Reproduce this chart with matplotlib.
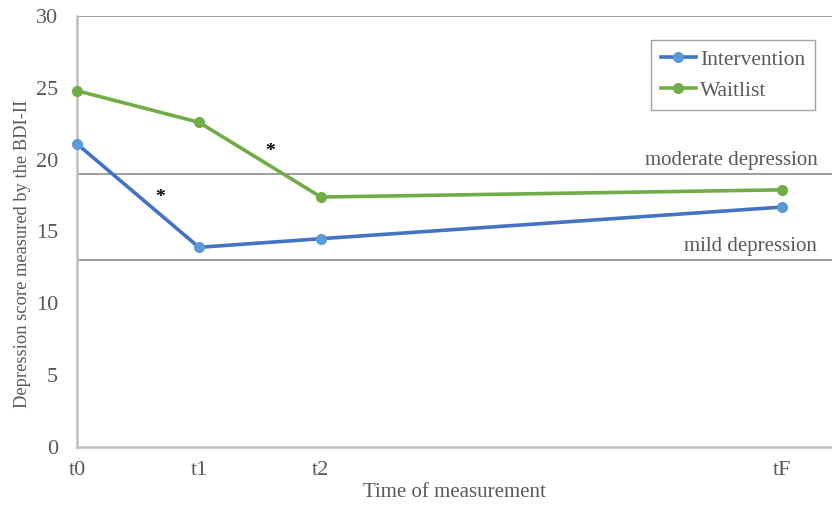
import matplotlib
matplotlib.use("Agg")
import matplotlib.pyplot as plt

# Messzeitpunkte und Mittelwerte (BDI-II)
zeitpunkte = ["t0", "t1", "t2", "tF"]
x_pos = [0, 1, 2, 5.78]
intervention = [21.1, 13.9, 14.5, 16.7]
waitlist = [24.8, 22.6, 17.4, 17.9]

grenzen = [19, 13]
grenz_labels = ["moderate depression", "mild depression"]

sterne_x = [0.68, 1.58]
sterne_y = [17.35, 20.6]

plt.rcParams["font.family"] = ["Liberation Serif", "DejaVu Serif"]
grau = "#595959"

fig = plt.figure(figsize=(8.32, 5.05), dpi=100)
ax = fig.add_axes([77 / 832, 1 - 447 / 505, 1 - 77 / 832, (447 - 16) / 505])

ax.plot(x_pos, intervention, color="#4472C4", lw=2.6, marker="o", ms=7,
        mfc="#5B9BD5", mec="#5B9BD5", label="Intervention", zorder=4, clip_on=False)
ax.plot(x_pos, waitlist, color="#70AD47", lw=2.6, marker="o", ms=7,
        mfc="#70AD47", mec="#70AD47", label="Waitlist", zorder=4, clip_on=False)

# Grenzlinien
ax.axhline(30, color="#8C8C8C", lw=1.2, zorder=1)
for g, lab in zip(grenzen, grenz_labels):
    ax.axhline(g, color="#8C8C8C", lw=1.2, zorder=1)
    ax.text(6.07, g + 0.3, lab, ha="right", va="bottom", fontsize=15, color=grau)

for sx, sy in zip(sterne_x, sterne_y):
    ax.text(sx, sy, "*", ha="center", va="center", fontsize=14, fontweight="bold", color="black")

ax.set_xlim(0, 6.19)
ax.set_ylim(0, 30)
ax.set_xticks(x_pos)
ax.set_xticklabels(zeitpunkte)
ax.set_yticks(range(0, 31, 5))

for s in ["top", "right"]:
    ax.spines[s].set_visible(False)
for s in ["left", "bottom"]:
    ax.spines[s].set_color("#BFBFBF")
    ax.spines[s].set_linewidth(1.8)

ax.tick_params(length=0, labelsize=16, colors=grau)
ax.tick_params(axis="x", pad=10)
ax.tick_params(axis="y", pad=13.5)

ax.set_xlabel("Time of measurement", fontsize=15, color=grau, labelpad=2.5)
ax.set_ylabel("Depression score measured by the BDI-II", fontsize=13.3, color=grau)
ax.yaxis.set_label_coords(-0.061, 0.448)

leg = ax.legend(loc="upper right", bbox_to_anchor=(0.977, 0.944), borderaxespad=0,
                fontsize=15.5, frameon=True, fancybox=False, handlelength=1.6,
                labelspacing=0.5, borderpad=0.45, handletextpad=0.2)
leg.get_frame().set_edgecolor("#8C8C8C")
leg.get_frame().set_linewidth(1.0)
for t in leg.get_texts():
    t.set_color(grau)

fig.savefig("out.png", dpi=100)
